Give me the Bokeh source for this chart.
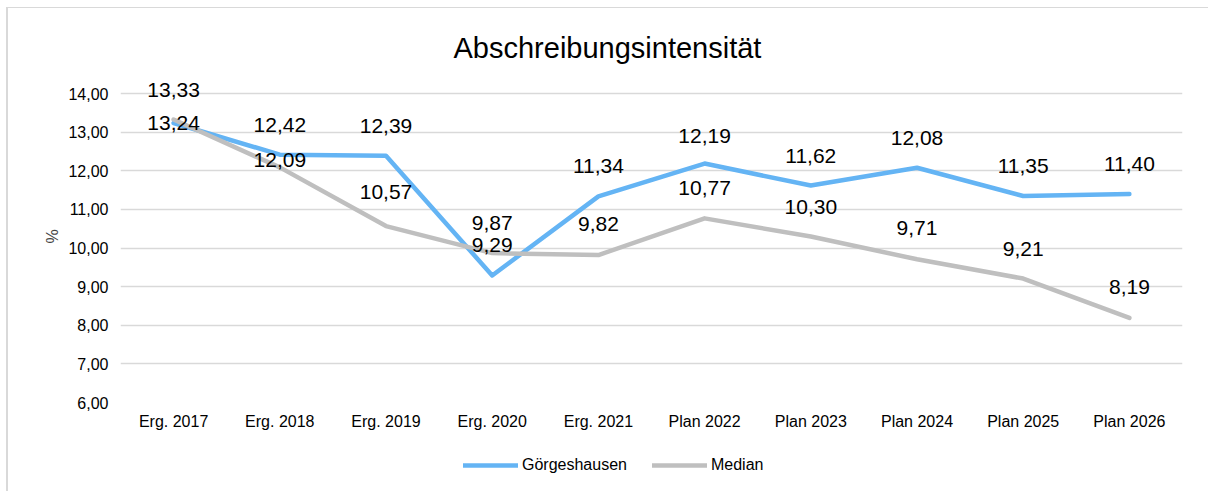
from bokeh.plotting import figure
from bokeh.layouts import column
from bokeh.models import ColumnDataSource, Legend, LegendItem, FixedTicker, CustomJSTickFormatter
from bokeh.core.properties import value
from bokeh.embed import file_html
from bokeh.resources import INLINE

# ---- data ----
categories = ["Erg. 2017", "Erg. 2018", "Erg. 2019", "Erg. 2020", "Erg. 2021",
              "Plan 2022", "Plan 2023", "Plan 2024", "Plan 2025", "Plan 2026"]
goergeshausen = [13.24, 12.42, 12.39, 9.29, 11.34, 12.19, 11.62, 12.08, 11.35, 11.40]
median = [13.33, 12.09, 10.57, 9.87, 9.82, 10.77, 10.30, 9.71, 9.21, 8.19]
series_names = ["Görgeshausen", "Median"]
y_ticks = [6, 7, 8, 9, 10, 11, 12, 13, 14]

# ---- label placement (style) ----
blue_label_dy = [0, -30, -30, -30, -30, -28, -30, -30, -30, -30]
grey_label_dy = [-30, -7, -34, -30, -31, -30, -30, -31, -30, -31]

def fmt(v):
    return f"{v:.2f}".replace(".", ",")

FONT = "Liberation Sans"
BLUE = "#64B4F4"
GREY = "#BFBFBF"
LW = 4.5

src_b = ColumnDataSource(dict(x=categories, y=goergeshausen,
                              t=[fmt(v) for v in goergeshausen], dy=blue_label_dy))
src_g = ColumnDataSource(dict(x=categories, y=median,
                              t=[fmt(v) for v in median], dy=grey_label_dy))

p = figure(x_range=categories, y_range=(6, 14.6), width=1200, height=440,
           output_backend="svg", toolbar_location=None,
           min_border_left=112, min_border_right=26, min_border_top=62, min_border_bottom=46)
p.x_range.range_padding = 0
p.outline_line_color = None
p.background_fill_color = "white"

# title
p.title.text = "Abschreibungsintensität"
p.title.text_font = FONT
p.title.text_font_size = "29px"
p.title.text_font_style = "normal"
p.title.text_color = "#000000"
p.title.align = "left"
p.title.offset = 333
p.title.standoff = 14

# axes
p.yaxis.ticker = FixedTicker(ticks=y_ticks)
p.yaxis.formatter = CustomJSTickFormatter(code="return tick.toFixed(2).replace('.', ',');")
for ax in (p.xaxis[0], p.yaxis[0]):
    ax.axis_line_color = None
    ax.major_tick_line_color = None
    ax.minor_tick_line_color = None
    ax.major_label_text_font = FONT
    ax.major_label_text_font_size = "16px"
    ax.major_label_text_color = "#000000"
p.yaxis.major_label_standoff = 6
p.xaxis.major_label_standoff = 4
p.yaxis.axis_label = "%"
p.yaxis.axis_label_text_font = FONT
p.yaxis.axis_label_text_font_size = "16px"
p.yaxis.axis_label_text_font_style = "normal"
p.yaxis.axis_label_standoff = 4

p.xgrid.grid_line_color = None
p.ygrid.grid_line_color = "#D9D9D9"
p.ygrid.grid_line_width = 1.5

# lines
p.line("x", "y", source=src_b, line_color=BLUE, line_width=LW,
       line_join="round", line_cap="round")
p.line("x", "y", source=src_g, line_color=GREY, line_width=LW,
       line_join="round", line_cap="round")

# data labels
for src in (src_b, src_g):
    p.text("x", "y", text="t", source=src, y_offset="dy",
           text_align="center", text_baseline="middle",
           text_font=value(FONT), text_font_size="21px", text_color="#000000")

# legend strip (separate figure so the legend sits below the axis)
q = figure(width=1200, height=43, x_range=(0, 1200), y_range=(0, 43),
           output_backend="svg", toolbar_location=None,
           x_axis_type=None, y_axis_type=None, min_border=0)
q.outline_line_color = None
q.xgrid.grid_line_color = None
q.ygrid.grid_line_color = None
lb = q.line(x=[0], y=[0], line_color=BLUE, line_width=LW, line_cap="round")
lg = q.line(x=[0], y=[0], line_color=GREY, line_width=LW, line_cap="round")
lb.visible = False
lg.visible = False
legend = Legend(items=[LegendItem(label=series_names[0], renderers=[lb]),
                       LegendItem(label=series_names[1], renderers=[lg])],
                orientation="horizontal", location=(343, 17),
                glyph_width=55, glyph_height=16, label_standoff=4, spacing=25,
                padding=0, margin=0, border_line_color=None,
                background_fill_alpha=0,
                label_text_font=FONT, label_text_font_size="16px",
                label_text_color="#000000")
q.add_layout(legend, "center")

layout = column(p, q, spacing=0)
layout.margin = (7, 0, 0, 6)
layout.styles = {"border-top": "1px solid #D9D9D9", "border-left": "2px solid #D9D9D9"}

open("out.html", "w").write(file_html(layout, INLINE))
